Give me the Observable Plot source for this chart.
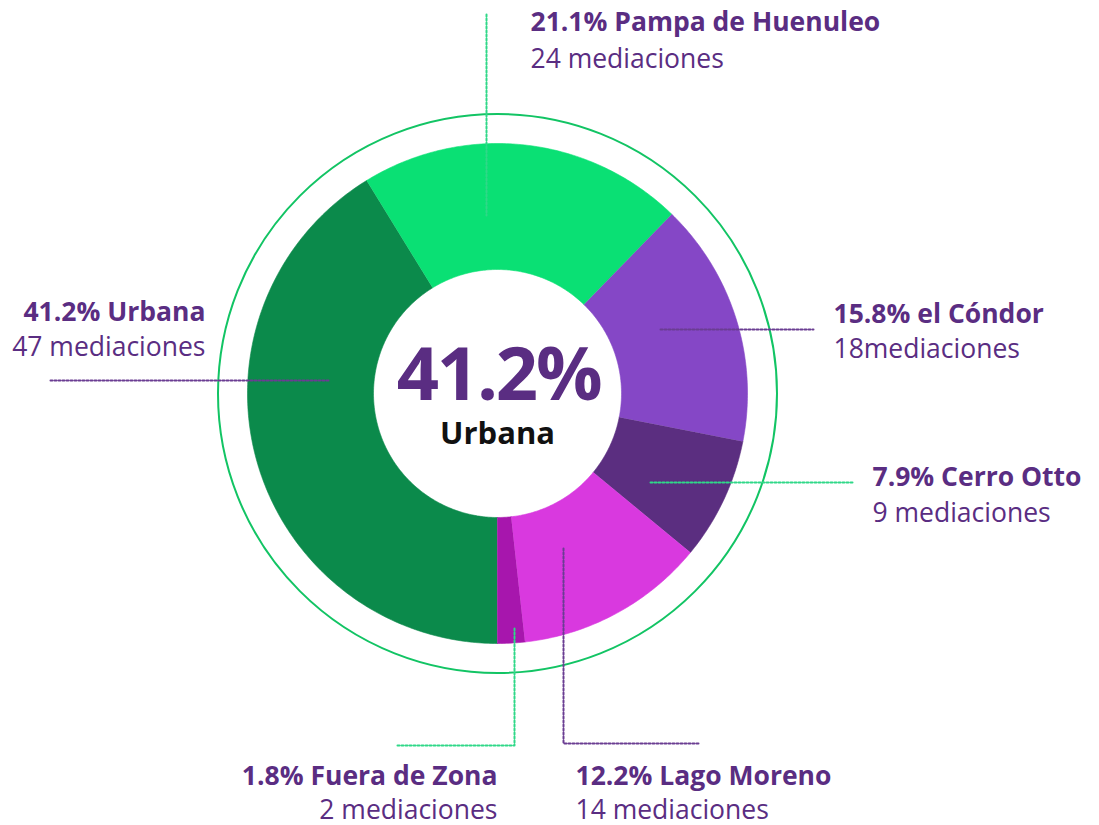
<!DOCTYPE html>
<html><head><meta charset="utf-8">
<script src="https://cdn.jsdelivr.net/npm/d3@7"></script>
<script src="https://cdn.jsdelivr.net/npm/@observablehq/plot@0.6"></script>
<style>body{margin:0;background:#fff} svg{display:block} g[font-size="74"]{letter-spacing:-2.2px}</style>
</head><body><div id="chart"></div>
<script>
// ---- data ----
const categories = ["Urbana", "Pampa de Huenuleo", "el Cóndor", "Cerro Otto", "Lago Moreno", "Fuera de Zona"];
const counts = [47, 24, 18, 9, 14, 2];
const percentLabels = ["41.2%", "21.1%", "15.8%", "7.9%", "12.2%", "1.8%"];
const countLabels = ["47 mediaciones", "24 mediaciones", "18mediaciones", "9 mediaciones", "14 mediaciones", "2 mediaciones"];
const centerValue = "41.2%";
const centerLabel = "Urbana";

// ---- styles ----
const sliceColors = ["#0b8a4b", "#0ae074", "#8547c6", "#5b2e80", "#d939df", "#a716ad"];
const textPurple = "#5a2d82";
const leaderGreen = "#2fd888";
const leaderPurple = "#6a3d92";
const ringGreen = "#12c464";

// ---- layout ----
const W = 1099, H = 825, cx = 497, cy = 393, rOuter = 250, rInner = 124, rRing = 279.5;
const labelLayout = [
  {x: 205, top1: 302, top2: 337, anchor: "end"},
  {x: 530, top1: 12, top2: 49, anchor: "start"},
  {x: 833, top1: 304, top2: 339, anchor: "start"},
  {x: 872, top1: 467, top2: 503, anchor: "start"},
  {x: 575, top1: 766, top2: 800, anchor: "start"},
  {x: 497, top1: 766, top2: 800, anchor: "end"}
];
const leaderLayout = [
  {color: leaderPurple, pts: [[50, 380], [328, 380]]},
  {color: leaderGreen, pts: [[486, 14], [486, 215]]},
  {color: leaderPurple, pts: [[660, 329], [813, 329]]},
  {color: leaderGreen, pts: [[650, 482], [852, 482]]},
  {color: leaderPurple, pts: [[563, 548], [563, 743], [700, 743]]},
  {color: leaderGreen, pts: [[514, 628], [514, 745], [397, 745]]}
];

// ---- slice polygons from the data ----
const arcs = d3.pie().sort(null).startAngle(Math.PI).endAngle(3 * Math.PI)(counts);
const slicePts = [];
arcs.forEach((a, i) => {
  const n = Math.max(4, Math.ceil((a.endAngle - a.startAngle) * 80));
  for (let k = 0; k <= n; k++) {
    const t = a.startAngle + (a.endAngle - a.startAngle) * k / n;
    slicePts.push({cat: categories[i], x: cx + rOuter * Math.sin(t), y: cy - rOuter * Math.cos(t)});
  }
  for (let k = n; k >= 0; k--) {
    const t = a.startAngle + (a.endAngle - a.startAngle) * k / n;
    slicePts.push({cat: categories[i], x: cx + rInner * Math.sin(t), y: cy - rInner * Math.cos(t)});
  }
});

const leaderPts = [];
leaderLayout.forEach((l, i) => l.pts.forEach(p => leaderPts.push({cat: categories[i], color: l.color, x: p[0], y: p[1]})));

const labels = categories.map((c, i) => ({
  cat: c, head: `${percentLabels[i]} ${c}`, sub: countLabels[i], ...labelLayout[i]
}));
const labelsStart = labels.filter(d => d.anchor === "start");
const labelsEnd = labels.filter(d => d.anchor === "end");

const font = "'Open Sans', 'Noto Sans', sans-serif";
const headOpts = {x: "x", text: "head", lineAnchor: "top", fontSize: 26.5, fontWeight: 700, fill: textPurple};
const subOpts = {x: "x", text: "sub", lineAnchor: "top", fontSize: 26.5, fontWeight: 400, fill: textPurple};

const chart = Plot.plot({
  width: W, height: H,
  margin: 0,
  style: {fontFamily: font, background: "#fff"},
  x: {domain: [0, W], range: [0, W], axis: null},
  y: {domain: [0, H], range: [0, H], axis: null},
  color: {domain: categories, range: sliceColors},
  marks: [
    Plot.line(slicePts, {x: "x", y: "y", z: "cat", fill: "cat", stroke: "cat", strokeWidth: 0.6, curve: "linear"}),
    Plot.dot([{x: cx, y: cy}], {x: "x", y: "y", r: rRing, stroke: ringGreen, strokeWidth: 2, fill: "none"}),
    Plot.line(leaderPts, {x: "x", y: "y", z: "cat", stroke: d => d.color, strokeWidth: 2, strokeDasharray: "2,2", curve: "linear"}),
    Plot.text([centerValue], {x: cx + 1, y: 347, text: d => d, lineAnchor: "top", fontSize: 74, fontWeight: 700, fill: textPurple, textAnchor: "middle"}),
    Plot.text([centerLabel], {x: cx, y: 421, text: d => d, lineAnchor: "top", fontSize: 31, fontWeight: 700, fill: "#111", textAnchor: "middle"}),
    Plot.text(labelsStart, {...headOpts, y: "top1", textAnchor: "start"}),
    Plot.text(labelsEnd, {...headOpts, y: "top1", textAnchor: "end"}),
    Plot.text(labelsStart, {...subOpts, y: "top2", textAnchor: "start"}),
    Plot.text(labelsEnd, {...subOpts, y: "top2", textAnchor: "end"})
  ]
});
document.getElementById("chart").appendChild(chart);
</script>
</body></html>
